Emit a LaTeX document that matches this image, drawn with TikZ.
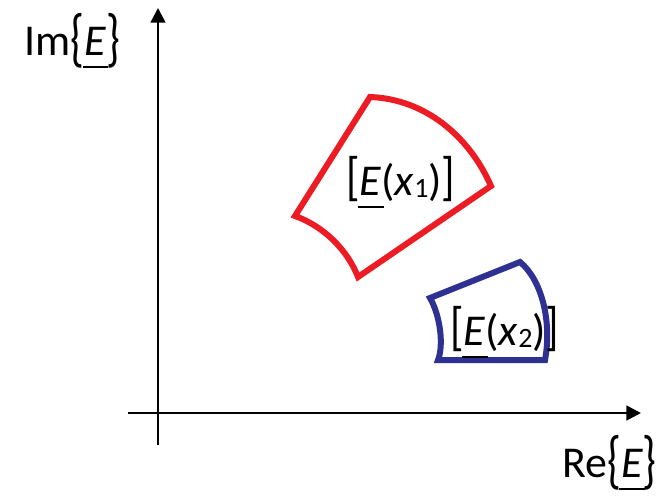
\documentclass[tikz,border=0pt]{standalone}
\usepackage{fontspec}
\setmainfont{Carlito}
\usepackage{tikz}
\usetikzlibrary{arrows.meta}
\definecolor{myred}{RGB}{237,28,36}
\definecolor{myblue}{RGB}{46,49,146}
\newcommand{\uE}{\makebox[0pt][l]{\hspace{-0.04em}\rule[-0.3em]{0.58em}{0.06em}}\textit{E}}
\newcommand{\lbr}{\raisebox{-0.11em}{\scalebox{1}[1.45]{\{}}}
\newcommand{\rbr}{\raisebox{-0.11em}{\scalebox{1}[1.45]{\}}}}
\newcommand{\lsq}{\raisebox{0.02em}{\scalebox{1}[1.2]{[}}}
\newcommand{\rsq}{\raisebox{0.02em}{\scalebox{1}[1.2]{]}}}
\newcommand{\sub}[1]{\raisebox{-0.06em}{\fontsize{21}{22}\selectfont #1}}

\begin{document}
\begin{tikzpicture}[x=0.75pt,y=-0.75pt,every node/.style={font=\fontsize{33}{38}\selectfont,inner sep=0pt}]
\tikzstyle{ax}=[line width=2pt,-{Triangle[length=11pt,width=11pt]}]
\tikzstyle{region}=[line width=4.5pt,line join=miter]
\useasboundingbox (0,0) rectangle (665,497);
\coordinate (ybot) at (158,445);
\coordinate (ytop) at (158,8);
\coordinate (xleft) at (128,413);
\coordinate (xright) at (641,413);
\draw[ax] (ybot) -- (ytop);
\draw[ax] (xleft) -- (xright);
\node[anchor=base west] (imlab) at (24,55) {Im\lbr\uE\rbr};
\node[anchor=base west] (relab) at (562,477) {Re\lbr\uE\rbr};
\draw[region,myred] (295,216) -- (370,97) .. controls (425,99) and (469,136) .. (491,186)
  -- (358,277) .. controls (347,249) and (323,226) .. (295,216) -- cycle;
\draw[region,myblue] (430,298) -- (520,262) .. controls (542,280) and (552,322) .. (545,360)
  -- (438,360) .. controls (444,345) and (440,315) .. (430,298) -- cycle;
\node[anchor=base west] (xone) at (346,195) {\lsq\uE(\textit{x}\sub{1})\rsq};
\node[anchor=base west] (xtwo) at (450,345) {\lsq\uE(\textit{x}\sub{2})\rsq};
\end{tikzpicture}
\end{document}
